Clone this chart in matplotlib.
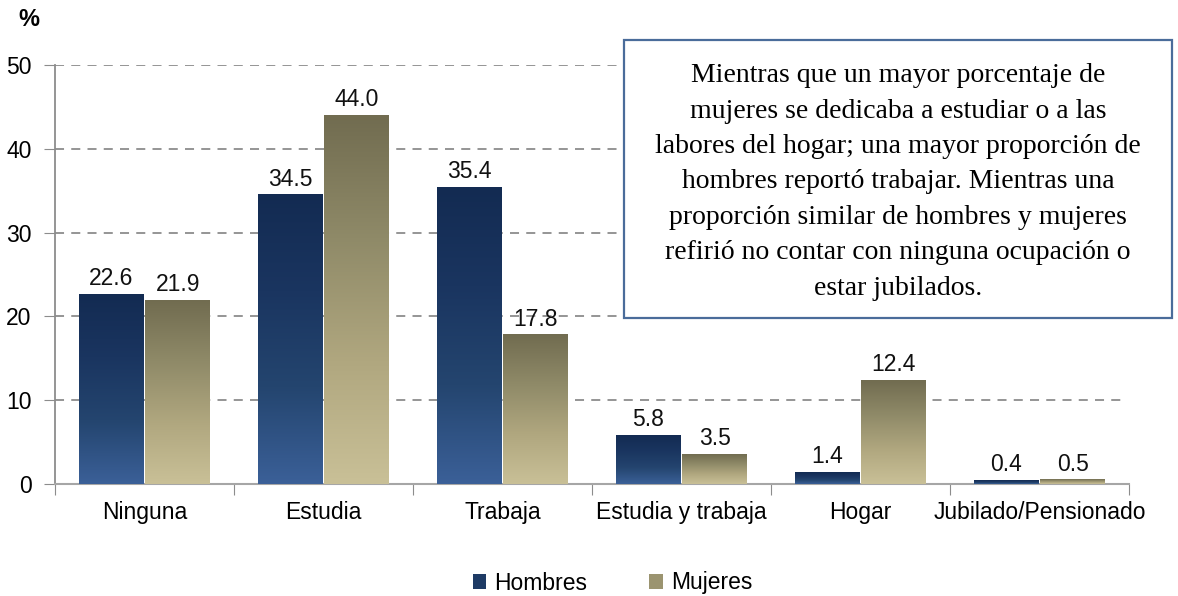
import matplotlib
matplotlib.use("Agg")
import matplotlib.pyplot as plt
import numpy as np
from matplotlib.colors import LinearSegmentedColormap
from matplotlib.patches import Rectangle

categories = ["Ninguna", "Estudia", "Trabaja", "Estudia y trabaja", "Hogar", "Jubilado/Pensionado"]
hombres = [22.6, 34.5, 35.4, 5.8, 1.4, 0.4]
mujeres = [21.9, 44.0, 17.8, 3.5, 12.4, 0.5]
series_names = ["Hombres", "Mujeres"]
yticks = [0, 10, 20, 30, 40, 50]
note = ("Mientras que un mayor porcentaje de\n"
        "mujeres se dedicaba a estudiar o a las\n"
        "labores del hogar; una mayor proporción de\n"
        "hombres reportó trabajar. Mientras una\n"
        "proporción similar de hombres y mujeres\n"
        "refirió no contar con ninguna ocupación o\n"
        "estar jubilados.")

plt.rcParams['font.family'] = ['Liberation Sans', 'DejaVu Sans']
FS = 16.5

fig = plt.figure(figsize=(11.78, 5.96), dpi=100)
ax = fig.add_axes([55/1178, 1-484/596, (1129-55)/1178, (484-65)/596])

cmap_h = LinearSegmentedColormap.from_list("h", ["#3b6098", "#24456f", "#1a3560", "#132b52"])
cmap_m = LinearSegmentedColormap.from_list("m", ["#c9c097", "#b0a77f", "#8f8a68", "#716c50"])

x = np.arange(len(categories)) + 0.5
w = 0.363
off = 0.186
grad = np.linspace(0, 1, 256).reshape(-1, 1)

for vals, dx, cmap, name in [(hombres, -off, cmap_h, series_names[0]), (mujeres, off, cmap_m, series_names[1])]:
    bars = ax.bar(x + dx, vals, width=w, color="none", edgecolor="none", zorder=3)
    for b, v in zip(bars, vals):
        x0, x1 = b.get_x(), b.get_x() + b.get_width()
        ax.imshow(grad, extent=(x0, x1, 0, v), origin="lower", cmap=cmap,
                  aspect="auto", zorder=3, interpolation="bilinear")
        ax.text(b.get_x() + b.get_width()/2, v + 0.5, f"{v:.1f}", ha="center", va="bottom",
                fontsize=FS, color="#111111", zorder=5)
    ax.add_patch(Rectangle((0, 0), 0, 0, facecolor=cmap(0.55), label=name))

ax.set_xlim(0, len(categories))
ax.set_ylim(0, 50)
ax.set_yticks(yticks)
ax.set_yticklabels([str(t) for t in yticks], fontsize=FS)
ax.set_xticks(np.arange(len(categories) + 1))
ax.set_xticklabels([])
ax.set_xticks(x, minor=True)
ax.set_xticklabels(categories, minor=True, fontsize=FS)
ax.tick_params(axis="x", which="minor", length=0, pad=12)
ax.tick_params(axis="x", which="major", length=8, color="#8c8c8c", direction="out")
ax.tick_params(axis="y", length=8, color="#8c8c8c", direction="out", pad=9)

for t in yticks[1:]:
    ax.axhline(t, color="#8c8c8c", linestyle=(0, (5, 4)), linewidth=1.3, zorder=1, xmax=0.9925)

for s in ["top", "right"]:
    ax.spines[s].set_visible(False)
ax.spines["left"].set_color("#8c8c8c")
ax.spines["bottom"].set_color("#a6a6a6")
ax.spines["left"].set_linewidth(1.3)
ax.spines["bottom"].set_linewidth(1.5)

fig.text(18/1178, 1-20/596, "%", fontsize=17, fontweight="bold", va="center", ha="left")

box = Rectangle((624/1178, 1-318/596), (1172-624)/1178, (318-40)/596, transform=fig.transFigure,
                facecolor="white", edgecolor="#4a6c9a", linewidth=1.6, zorder=10)
fig.add_artist(box)
fig.text((624+1172)/2/1178, 1-182/596, note, ha="center", va="center", fontsize=20,
         family=["Liberation Serif", "DejaVu Serif"], linespacing=1.55, zorder=11)

leg = fig.legend(loc="center", bbox_to_anchor=(0.52, 1-583/596), ncol=2, frameon=False,
                 fontsize=FS, handlelength=0.6, handleheight=0.6, handletextpad=0.35,
                 columnspacing=2.7)

fig.savefig("out.png", dpi=100)
